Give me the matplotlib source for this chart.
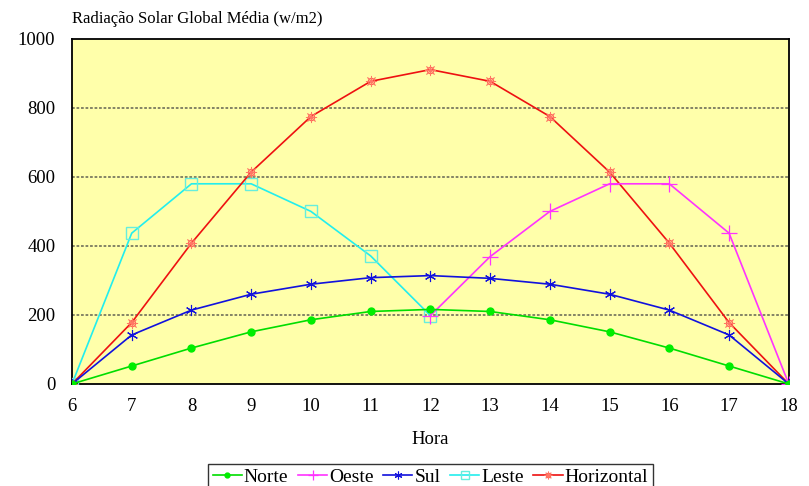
import matplotlib
matplotlib.use("Agg")
import matplotlib.pyplot as plt
from matplotlib.legend_handler import HandlerTuple

plt.rcParams['font.family'] = ['Liberation Serif', 'DejaVu Serif']

horas = [6, 7, 8, 9, 10, 11, 12, 13, 14, 15, 16, 17, 18]
norte = [0, 52, 104, 151, 186, 210, 216, 210, 186, 151, 104, 52, 0]
sul = [0, 142, 214, 260, 289, 308, 314, 306, 289, 260, 214, 142, 0]
horizontal = [0, 178, 408, 614, 775, 877, 911, 877, 775, 614, 408, 178, 0]
horas_leste = [6, 7, 8, 9, 10, 11, 12]
leste = [0, 437, 580, 580, 500, 371, 198]
horas_oeste = [12, 13, 14, 15, 16, 17, 18]
oeste = [198, 369, 500, 580, 580, 437, 0]

fig = plt.figure(figsize=(8.09, 4.86), dpi=100)
ax = fig.add_axes([0.089, 0.21, 0.886, 0.71])
ax.set_facecolor('#ffffaa')

h_norte, = ax.plot(horas, norte, color='#00dd00', lw=1.2, marker='o', ms=5,
                   mfc='#00ee00', mec='#00ee00', label='Norte', zorder=5)
h_oeste, = ax.plot(horas_oeste, oeste, color='#ff33ff', lw=1.2, marker='+', ms=11,
                   mew=0.9, label='Oeste', zorder=4)
h_sul, = ax.plot(horas, sul, color='#1111dd', lw=1.2, marker=(6, 2, 0), ms=8,
                 mew=0.8, label='Sul', zorder=4)
h_leste, = ax.plot(horas_leste, leste, color='#22eeee', lw=1.2, marker='s', ms=8,
                   mfc='none', mec='#66eedd', mew=1.0, label='Leste', zorder=3)
h_hor, = ax.plot(horas, horizontal, color='#ee1111', lw=1.2, marker='o', ms=4.5,
                 mfc='none', mec='#ff6655', mew=0.9, zorder=3)
h_hor2, = ax.plot(horas, horizontal, ls='none', marker=(8, 2, 0), ms=8,
                  mec='#ff7766', mew=0.6, zorder=3)

ax.set_xlim(6, 18)
ax.set_ylim(0, 1000)
ax.set_xticks(horas)
ax.set_yticks([0, 200, 400, 600, 800, 1000])
ax.tick_params(axis='y', labelsize=13.5, length=0, pad=12)
ax.tick_params(axis='x', labelsize=13.5, length=0, pad=10)
for y in [200, 400, 600, 800]:
    ax.axhline(y, color='#7a7a60', lw=1.3, ls=(0, (1.5, 1)), zorder=1)
for s in ax.spines.values():
    s.set_linewidth(1.3)
    s.set_color('black')

ax.set_xlabel('Hora', fontsize=13.5, labelpad=12)
fig.text(0.089, 0.945, 'Radiação Solar Global Média (w/m2)', fontsize=12,
         ha='left', va='bottom')

leg = fig.legend([h_norte, h_oeste, h_sul, h_leste, (h_hor, h_hor2)],
                 ['Norte', 'Oeste', 'Sul', 'Leste', 'Horizontal'],
                 handler_map={tuple: HandlerTuple(ndivide=1)},
                 loc='lower center', bbox_to_anchor=(0.532, -0.03), ncol=5,
                 fontsize=14, frameon=True, fancybox=False, edgecolor='black',
                 handlelength=1.5, handletextpad=0.1, columnspacing=0.5,
                 borderpad=0.25, markerscale=0.7)
leg.get_frame().set_linewidth(1.0)

fig.savefig('out.png', dpi=100)
